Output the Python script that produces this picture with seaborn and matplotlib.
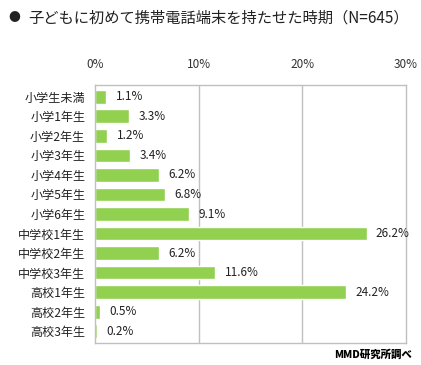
import matplotlib
matplotlib.use("Agg")
import matplotlib.pyplot as plt
import seaborn as sns
import pandas as pd

categories = ["小学生未満", "小学1年生", "小学2年生", "小学3年生", "小学4年生", "小学5年生",
              "小学6年生", "中学校1年生", "中学校2年生", "中学校3年生", "高校1年生", "高校2年生", "高校3年生"]
values = [1.1, 3.3, 1.2, 3.4, 6.2, 6.8, 9.1, 26.2, 6.2, 11.6, 24.2, 0.5, 0.2]
xticks = [0, 10, 20, 30]
xtick_labels = ["0%", "10%", "20%", "30%"]
title = "子どもに初めて携帯電話端末を持たせた時期（N=645）"
source = "MMD研究所調べ"

sns.set_style("white")
plt.rcParams['font.family'] = ['Noto Sans CJK JP', 'DejaVu Sans']

df = pd.DataFrame({"cat": categories, "val": values})

fig = plt.figure(figsize=(4.21, 3.65), dpi=100)
ax = fig.add_axes([95/421, 1-343/365, (406-95)/421, (343-85)/365])
sns.barplot(data=df, x="val", y="cat", color="#92d050", width=0.7, ax=ax, saturation=1)

ax.set_xlim(0, 30)
ax.set_ylim(12.6, -0.6)
ax.set_xticks(xticks)
ax.set_xticklabels(xtick_labels, fontsize=8.5, color="#333333")
ax.xaxis.tick_top()
ax.tick_params(axis="x", length=0, pad=10)
ax.tick_params(axis="y", length=0, pad=7, labelsize=8.7)
for lbl in ax.get_yticklabels():
    lbl.set_color("#222222")
ax.set_xlabel("")
ax.set_ylabel("")
for x in xticks[1:-1]:
    ax.axvline(x, color="#c0c0c0", lw=1, zorder=0)
for s in ax.spines.values():
    s.set_visible(True)
    s.set_color("#c0c0c0")
    s.set_linewidth(1)

for i, v in enumerate(values):
    ax.text(v + 0.9, i, f"{v}%", va="center", ha="left", fontsize=8.5, color="#222222")

fig.text(8/421, 1-18/365, "●", fontsize=8.5, va="center", ha="left", color="#222222")
fig.text(28/421, 1-18/365, title, fontsize=11, va="center", ha="left", color="#222222")
fig.text(412/421, 1-355/365, source, fontsize=7.5, va="center", ha="right", color="#000000", fontweight="heavy")

fig.savefig("out.png", dpi=100)
